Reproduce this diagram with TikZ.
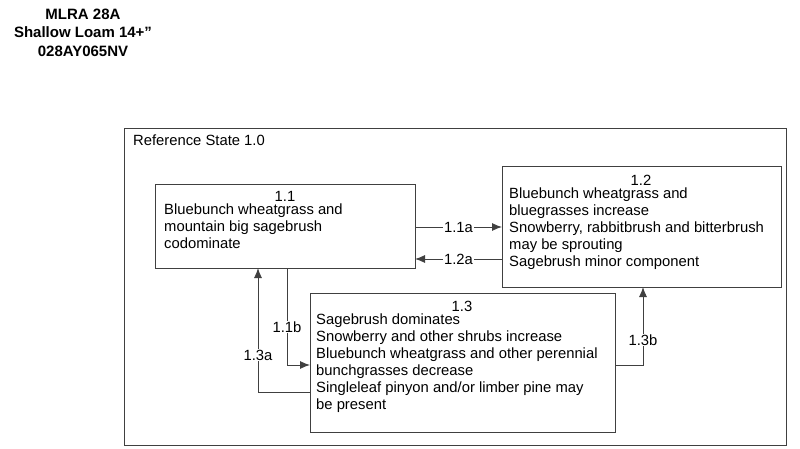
\documentclass[tikz,border=0pt]{standalone}
\usepackage{fontspec}
\setmainfont{Liberation Sans}
\usetikzlibrary{arrows.meta}
\begin{document}
\begin{tikzpicture}[x=1pt,y=-1pt,
  box/.style={draw=black!75,line width=0.9pt},
  txt/.style={font=\fontsize{14.8}{17}\selectfont,align=left,anchor=north west,inner sep=0pt},
  ctr/.style={font=\fontsize{14.8}{17}\selectfont,inner sep=0pt},
  arr/.style={draw=black!75,line width=0.9pt,-{Latex[length=10pt,width=8pt]}},
  lab/.style={font=\fontsize{14.8}{17}\selectfont,fill=white,inner sep=1pt}]
\useasboundingbox (0,0) rectangle (800,449);
\node[font=\bfseries\fontsize{15}{18.5}\selectfont,align=center,anchor=north] (title) at (83,5) {MLRA 28A\\Shallow Loam 14+"\\028AY065NV};
\draw[box] (124,128) rectangle (786,445);
\node[txt] (rs) at (133,135) {Reference State 1.0};
% boxes
\draw[box] (155,184) rectangle (415,268);
\node[ctr] (n11t) at (285,196) {1.1};
\node[txt] (n11) at (164,204) {Bluebunch wheatgrass and\\mountain big sagebrush\\codominate};
\draw[box] (502,166) rectangle (781,287);
\node[ctr] (n12t) at (641,180) {1.2};
\node[txt] (n12) at (509,188) {Bluebunch wheatgrass and\\bluegrasses increase\\Snowberry, rabbitbrush and bitterbrush\\may be sprouting\\Sagebrush minor component};
\draw[box] (310,293) rectangle (615,432);
\node[ctr] (n13t) at (462,306) {1.3};
\node[txt] (n13) at (316,314) {Sagebrush dominates\\Snowberry and other shrubs increase\\Bluebunch wheatgrass and other perennial\\bunchgrasses decrease\\Singleleaf pinyon and/or limber pine may\\be present};
% arrows
\coordinate (a1) at (415,227); \coordinate (a2) at (502,227);
\draw[arr] (a1) -- node[lab]{1.1a} (a2);
\coordinate (b1) at (502,259); \coordinate (b2) at (415,259);
\draw[arr] (b1) -- node[lab]{1.2a} (b2);
\coordinate (c1) at (287,268); \coordinate (c2) at (310,365);
\draw[arr] (c1) |- (c2);
\node[lab] (l11b) at (287,327) {1.1b};
\coordinate (d1) at (310,392); \coordinate (d2) at (258,268);
\draw[arr] (d1) -| (d2);
\node[lab] (l13a) at (258,355) {1.3a};
\coordinate (e1) at (615,365); \coordinate (e2) at (643,287);
\draw[arr] (e1) -| (e2);
\node[lab] (l13b) at (643,340) {1.3b};
\end{tikzpicture}
\end{document}
